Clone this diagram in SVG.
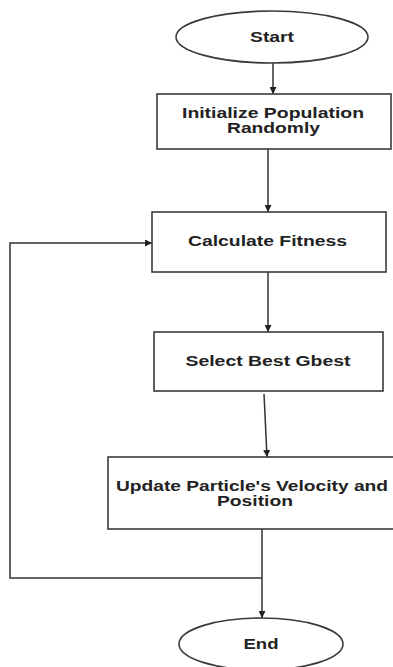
<svg xmlns="http://www.w3.org/2000/svg" width="393" height="667" viewBox="0 0 393 667">
  <style>
    .shape { fill: #ffffff; stroke: #3a3a3a; stroke-width: 1.6; }
    .label { font-family: "Liberation Sans", Arial, sans-serif; font-weight: bold; font-size: 14px; fill: #222222; text-anchor: middle; }
    .wire { fill: none; stroke: #333333; stroke-width: 1.5; }
  </style>
  <defs>
    <marker id="arrow" markerUnits="userSpaceOnUse" markerWidth="7" markerHeight="7" refX="7" refY="3.5" orient="auto">
      <path d="M0,0 L7,3.5 L0,7 z" fill="#222222"/>
    </marker>
  </defs>
  <rect width="393" height="667" fill="#ffffff"/>

  <!-- connectors -->
  <g id="connectors">
    <path class="wire" d="M273,63 L273,94" marker-end="url(#arrow)"/>
    <path class="wire" d="M268,149 L268,212" marker-end="url(#arrow)"/>
    <path class="wire" d="M268,272 L268,332" marker-end="url(#arrow)"/>
    <path class="wire" d="M264,394 L267,457" marker-end="url(#arrow)"/>
    <path class="wire" d="M262,529 L262,618" marker-end="url(#arrow)"/>
    <path class="wire" d="M262,578 L10,578 L10,243 L152,243" marker-end="url(#arrow)"/>
  </g>

  <!-- nodes -->
  <g id="start">
    <ellipse class="shape" cx="272" cy="37" rx="96" ry="26"/>
    <text class="label" x="272" y="42" textLength="44" lengthAdjust="spacingAndGlyphs">Start</text>
  </g>
  <g id="init">
    <rect class="shape" x="157" y="94" width="234" height="55"/>
    <text class="label" x="273" y="118" textLength="182" lengthAdjust="spacingAndGlyphs">Initialize Population</text>
    <text class="label" x="273.5" y="133" textLength="93" lengthAdjust="spacingAndGlyphs">Randomly</text>
  </g>
  <g id="fitness">
    <rect class="shape" x="152" y="212" width="234" height="60"/>
    <text class="label" x="267.5" y="246" textLength="159" lengthAdjust="spacingAndGlyphs">Calculate Fitness</text>
  </g>
  <g id="gbest">
    <rect class="shape" x="154" y="332" width="229" height="59"/>
    <text class="label" x="268" y="366" textLength="165" lengthAdjust="spacingAndGlyphs">Select Best Gbest</text>
  </g>
  <g id="update">
    <rect class="shape" x="108" y="457" width="300" height="72"/>
    <text class="label" x="252" y="491" textLength="272" lengthAdjust="spacingAndGlyphs">Update Particle's Velocity and</text>
    <text class="label" x="255" y="506" textLength="76" lengthAdjust="spacingAndGlyphs">Position</text>
  </g>
  <g id="end">
    <ellipse class="shape" cx="261" cy="644" rx="82" ry="26"/>
    <text class="label" x="261" y="649" textLength="35" lengthAdjust="spacingAndGlyphs">End</text>
  </g>
</svg>
